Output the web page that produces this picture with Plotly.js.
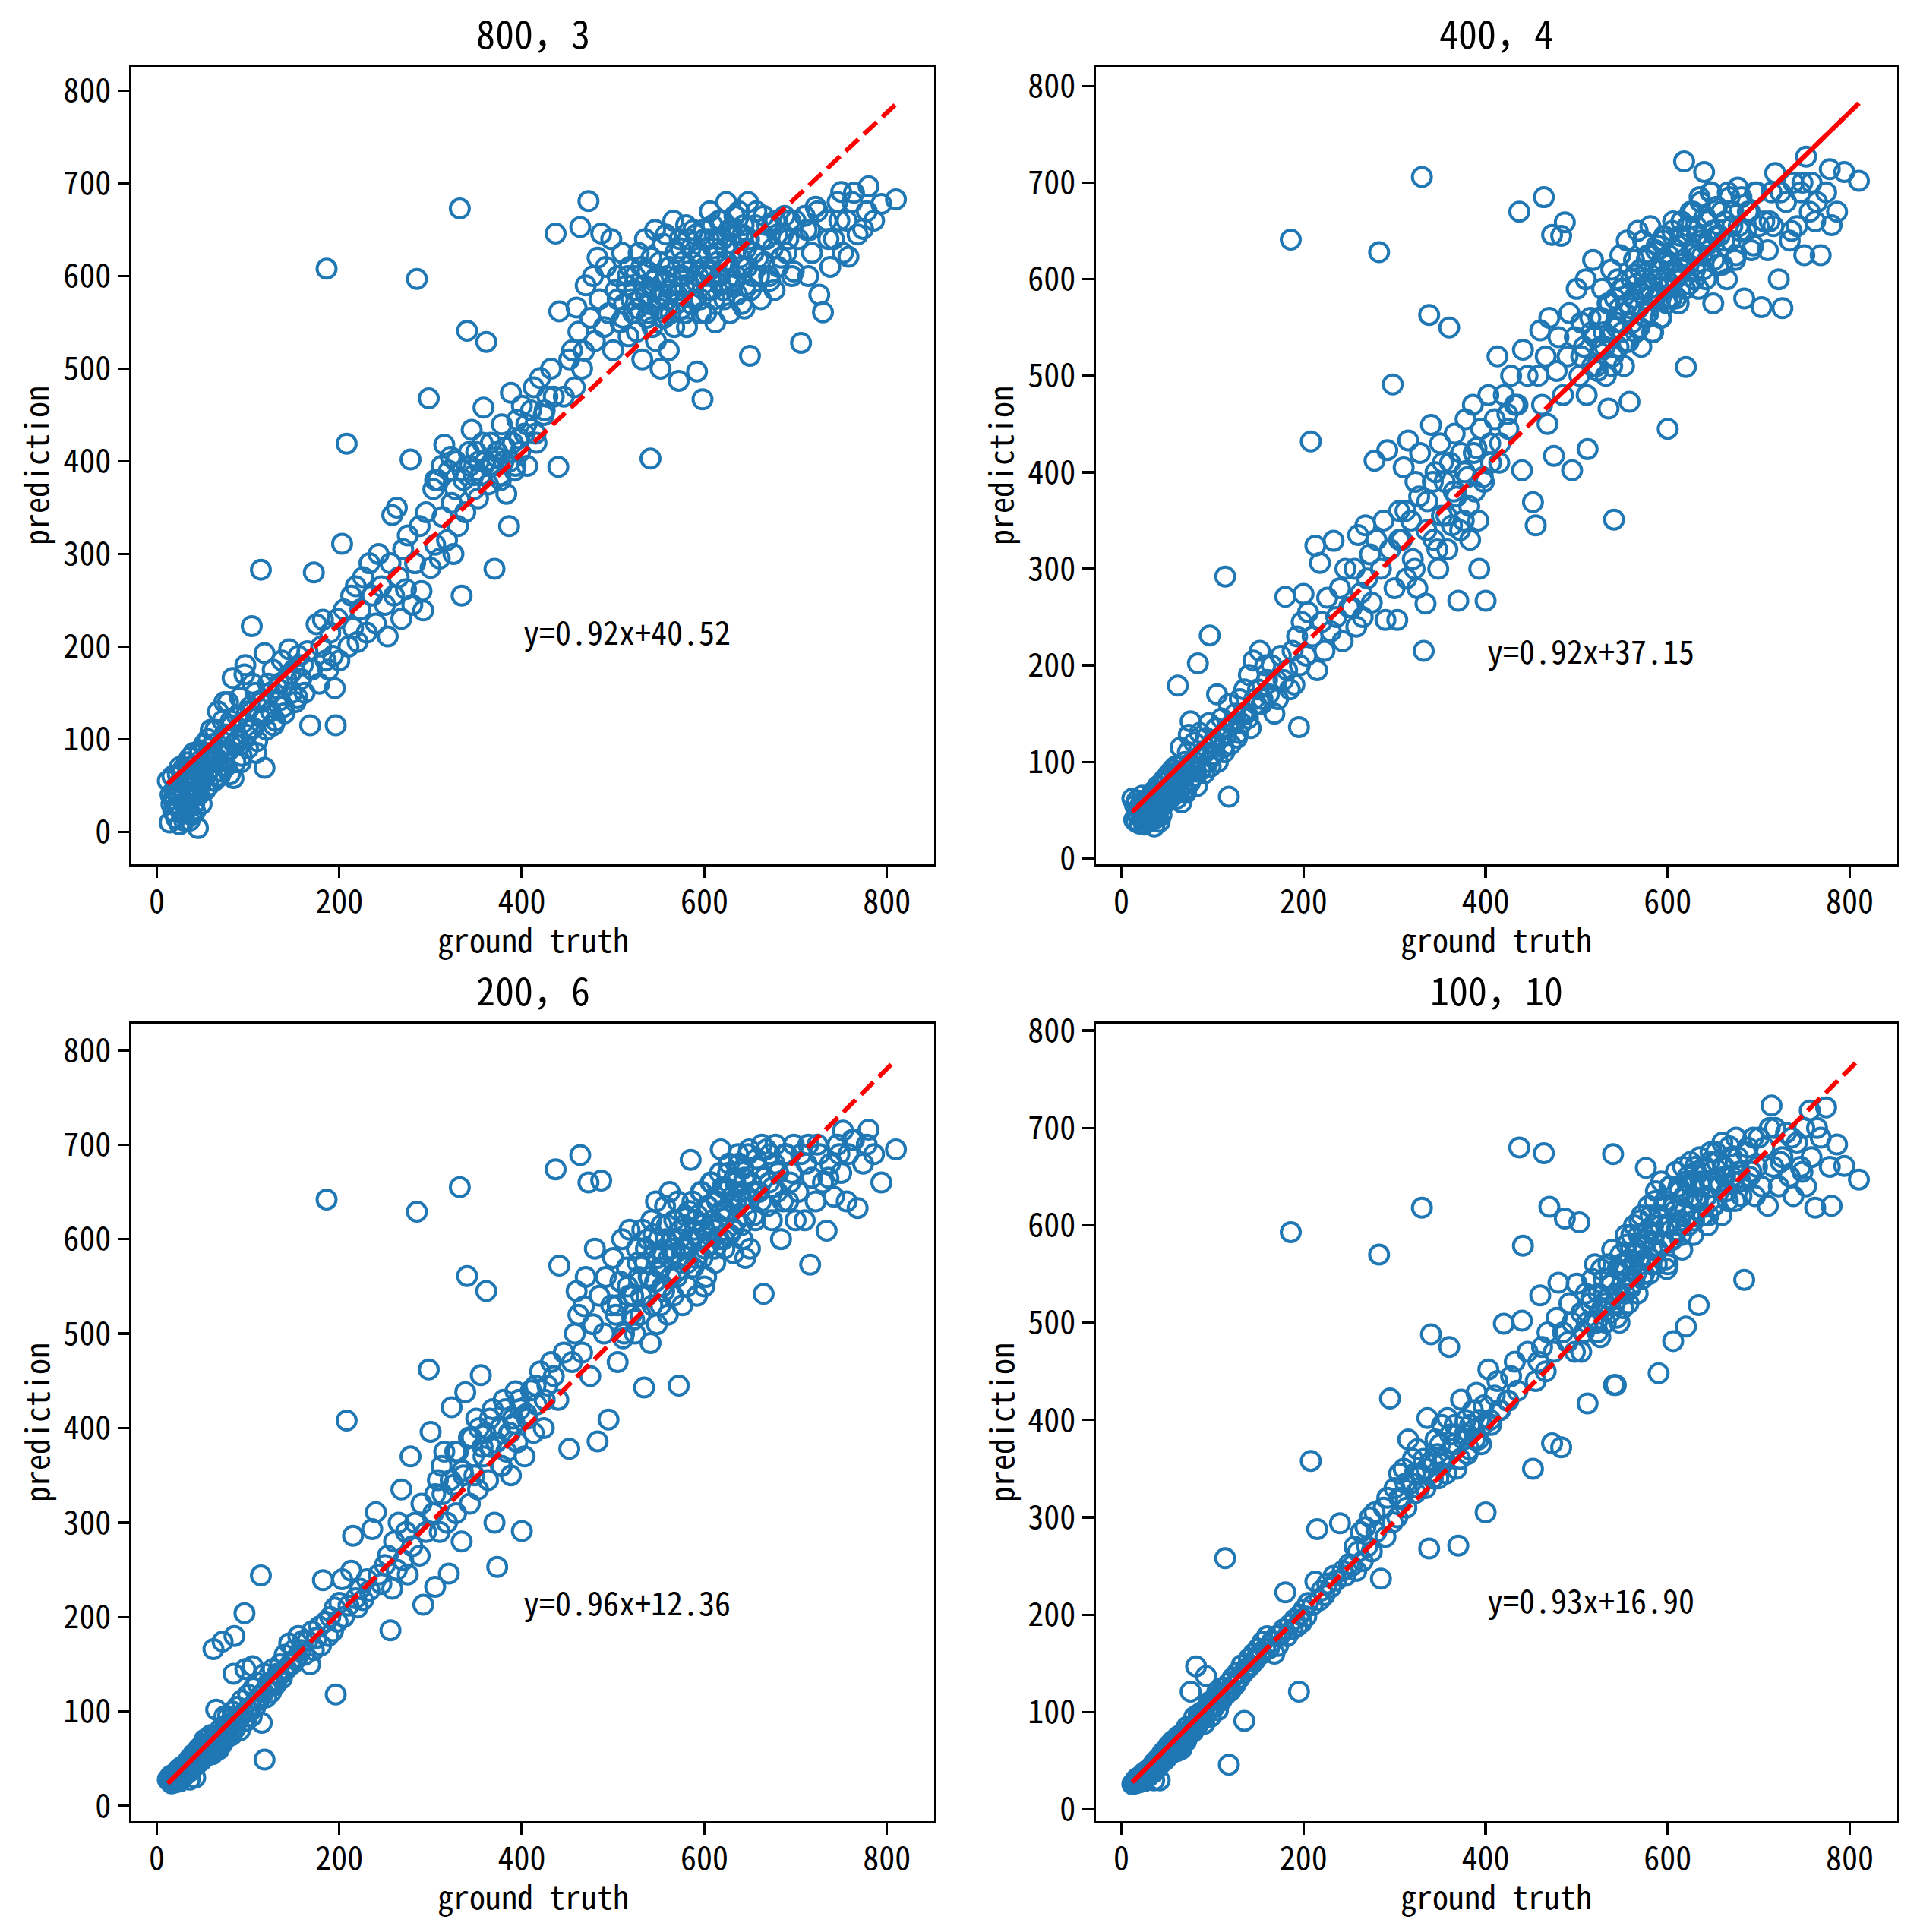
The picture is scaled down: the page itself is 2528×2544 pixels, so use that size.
<!DOCTYPE html>
<html><head><meta charset="utf-8">
<script src="https://cdn.plot.ly/plotly-3.0.1.min.js"></script>
<style>html,body{margin:0;padding:0;background:#fff}</style>
</head><body><div id="chart" style="width:2528px;height:2544px"></div>
<script>
// ---------- DATA ----------
const titles = ['800，3', '400，4', '200，6', '100，10'];
const slopes = [0.92, 0.92, 0.96, 0.93];
const intercepts = [40.52, 37.15, 12.36, 16.90];
const xLabel = 'ground truth';
const yLabel = 'prediction';
const xTicks = [0, 200, 400, 600, 800];
const yTicks = [0, 100, 200, 300, 400, 500, 600, 700, 800];

// ground truth (shared by all four panels)
const groundTruth = [
12,14,15,16,17,18,19,20,21,22, 22,23,24,25,25,26,27,28,28,29, 30,30,31,32,33,33,34,35,35,36, 37,38,38,39,40,40,41,42,43,44, 45,45,46,47,48,49,50,51,52,53, 54,55,56,57,58,58,59,60,42,36,
61,62,63,64,65,66,67,68,70,71, 72,73,75,76,78,79,80,82,83,85, 86,88,90,91,93,95,96,98,100,102, 104,106,108,110,112,114,115,118,120,122, 125,127,130,132,135,137,140,142,145,148, 150,152,155,158,160,97,84,118,74,105,
162,165,168,170,172,175,178,180,182,185, 186,188,190,193,195,196,198,200,203,205, 208,210,213,215,218,220,223,226,230,233, 236,240,243,246,250,
253,256,258,260,263,265,268,270,273,275, 278,280,283,285,288,290,292,295,298,300, 303,305,308,310,313,315,318,320,323,325, 328,330,332,334,336,338,340,343,345,348, 350,352,355,358,360,361,363,366,368,370, 373,376,378,380,383,386,388,390,393,395, 398,400,403,406,410,413,416,420,424,428, 432,437,440,446,452,
455,458,460,462,464,466,468,470,473,475, 478,480,483,485,487,490,492,495,498,500, 503,505,508,510,512,515,517,518,520,441,
522,524,526,528,530,532,534,535,537,538, 540,541,542,543,545,546,547,548,550,551, 552,553,555,556,557,558,560,561,562,563, 565,566,567,568,570,571,572,573,575,576, 578,580,581,583,585,586,588,590,592,594, 596,598,600,602,604,606,608,610,612,614, 616,618,620,622,624,626,628,630,632,634, 636,638,640,642,644,646,648,650,653,656, 659,662,665,668,671,674,677,680,684,688, 692,696,700,645,600,
703,706,710,714,716,718,722,726,730,734, 738,742,746,750,752,756,758,762,768,774, 778,780,786,794,810,
505,511,516,523,527,531,536,539,544,549, 554,559,564,569,574,577,579,582,584,587, 589,591,593,595,597,599,601,603,605,607, 609,611,613,615,617,619,621,623,625,627, 629,631,633,635,637,639,641,643,647,649, 651,654,657,660,663,666,669,672,675,678, 681,686,690,694,698,712,724,736,748,764,
18,24,27,31,34,37,41,44,47,50, 53,57,63,69,74,77,81,87,92,99, 103,109,113,117,124,128,134,139,146,154,
305,312,322,327,335,342,347,353,357,365, 372,377,382,387,392,397,405,415,425,435
];

const pred800_3 = [
55,10,40,30,60,22,45,35,15,50, 28,62,38,8,70,45,20,55,36,68, 42,12,58,30,75,48,25,62,40,80, 35,55,18,70,48,85,30,60,45,75, 4,65,40,88,52,30,72,58,95,45, 78,62,100,50,85,68,110,75,22,12,
70,95,55,110,80,60,130,75,92,65, 120,85,70,105,140,88,62,115,166,95, 75,125,100,145,82,118,170,105,90,135, 222,112,150,98,125,283,140,193,110,160, 130,175,120,155,142,185,128,165,197,150, 175,140,190,165,180,180,58,69,140,160,
150,195,115,175,280,224,160,200,229,185, 608,175,215,190,155,115,230,185,311,240, 419,200,255,220,265,205,240,275,215,290, 255,225,300,265,245,
211,290,342,255,350,275,230,305,262,320, 402,245,290,597,330,260,239,345,468,285, 370,310,380,295,340,418,315,390,355,300, 400,330,673,255,380,345,541,395,434,370, 410,360,385,458,400,529,375,420,395,284, 410,385,440,400,365,330,474,420,395,445, 410,460,430,395,455,480,420,490,450,470, 500,646,394,470,510,
520,480,566,540,653,500,519,590,681,555, 600,530,620,575,646,545,610,560,640,520, 585,600,550,625,570,590,535,610,575,562,
560,600,540,625,575,510,590,640,555,605, 570,403,620,545,585,650,530,600,565,615, 500,580,635,555,595,645,575,520,610,560, 590,660,545,625,580,600,487,640,565,615, 590,655,545,605,630,570,650,595,497,620, 575,467,640,560,605,670,585,630,550,615, 660,590,640,575,680,610,560,650,595,625, 580,670,610,645,565,630,680,514,600,655, 620,575,665,640,600,655,585,645,620,665, 640,600,660,590,600,
640,528,665,600,650,625,675,580,561,660, 610,640,680,691,625,660,621,680,645,651, 670,697,660,678,683,
575,555,600,585,565,610,580,560,595,575, 555,600,585,570,630,600,560,640,590,615, 575,645,600,625,560,650,610,585,640,600, 655,575,625,640,600,660,585,630,615,650, 590,635,665,600,645,620,570,655,610,640, 585,625,670,600,640,615,655,595,630,660, 610,645,625,660,605,650,670,640,660,690,
35,48,65,52,28,70,55,40,85,62, 45,90,78,60,105,88,120,95,75,130, 110,85,140,125,150,115,160,135,170,145,
380,395,405,370,390,410,385,400,420,395, 405,380,415,400,390,425,440,430,455,470
];

const pred400_4 = [
62,40,55,38,60,45,52,36,48,58, 42,65,50,35,60,46,40,56,48,62, 44,38,58,50,66,45,40,60,52,70, 48,62,42,68,55,75,50,65,58,78, 55,70,60,82,65,58,80,68,88,62, 85,72,92,70,88,78,95,82,38,33,
62,179,70,90,115,58,85,75,100,68, 90,110,78,142,95,85,120,90,75,105, 130,92,110,88,125,100,140,95,120,108, 135,100,125,145,115,292,128,160,118,140, 150,125,165,140,175,150,190,135,205,160, 175,215,165,200,185,231,202,64,128,170,
170,200,150,185,165,210,185,271,195,175, 641,215,180,230,136,200,245,274,210,255, 432,230,324,195,306,245,215,270,235,329, 250,280,225,300,260,
260,300,240,335,275,250,345,290,315,265, 412,330,628,300,350,247,423,320,491,280, 247,360,330,405,290,433,350,310,390,280, 420,706,215,264,370,563,449,330,400,300, 430,355,390,320,550,410,345,440,375,267, 420,350,455,395,330,470,380,425,300,445, 390,267,480,410,455,520,430,480,460,500, 470,670,402,500,369,
345,500,547,470,685,520,450,560,646,417, 505,540,645,480,659,520,565,402,540,590, 500,555,530,600,424,560,510,620,540,527,
510,560,530,590,545,500,575,466,540,610, 520,351,580,555,600,530,570,625,545,590, 510,565,640,575,535,473,600,555,580,620, 545,595,650,570,610,530,585,640,600,560, 625,590,655,545,610,580,635,600,560,620, 645,590,445,615,580,660,600,630,575,645, 610,722,509,655,595,630,670,610,645,590, 680,625,711,600,660,630,690,575,645,615, 670,640,600,685,655,620,695,650,580,670, 630,690,655,640,580,
571,660,630,690,655,710,600,570,680,640, 700,655,690,625,727,670,700,660,625,690, 714,656,670,711,702,
520,480,545,505,560,530,575,510,550,590, 535,570,605,550,590,620,565,600,545,630, 585,610,560,640,600,575,625,595,650,610, 580,635,605,660,620,590,645,615,670,630, 600,655,625,685,640,610,665,635,690,650, 620,675,645,615,660,690,640,670,625,655, 685,650,670,635,690,660,690,650,700,680,
45,52,40,58,48,62,55,45,68,60, 72,65,80,70,95,82,100,92,110,105, 118,125,110,135,140,130,150,145,165,160,
330,360,300,375,340,390,320,410,355,380, 340,400,365,420,350,395,430,410,445,470
];

const pred200_6 = [
28,26,32,24,30,28,34,25,30,36, 28,38,30,26,40,32,30,42,34,38, 36,32,44,38,46,35,40,48,36,50, 42,48,38,52,45,55,42,50,48,58, 46,60,50,62,55,48,64,58,70,52, 66,60,72,58,68,62,75,65,30,28,
55,166,70,58,102,62,75,60,82,65, 174,68,85,72,95,78,88,75,100,180, 82,105,92,80,112,98,204,90,118,100, 95,125,105,130,112,244,88,140,115,130, 120,145,128,140,150,135,160,145,172,150, 165,155,180,165,175,145,140,49,95,148,
160,175,150,185,165,178,190,170,239,195, 642,180,200,185,210,118,195,215,240,200, 408,212,249,286,220,210,230,218,240,228, 293,311,245,235,255,
265,186,230,280,250,300,335,260,290,245, 370,275,300,629,265,320,213,290,462,396, 310,232,345,290,330,375,300,246,422,340, 310,375,655,280,350,438,561,320,390,350, 410,335,456,370,395,545,345,380,420,300, 253,400,360,430,375,395,350,410,439,385, 420,291,370,410,440,395,425,460,400,445, 470,674,430,480,378,
470,500,545,520,689,480,529,560,660,455, 510,590,386,540,662,500,560,409,530,580, 520,470,555,600,500,570,540,610,520,572,
540,500,590,560,520,610,443,575,540,600, 560,490,620,530,585,555,640,510,600,570, 530,615,585,545,635,600,520,580,650,560, 600,540,620,585,560,640,445,600,575,530, 615,590,550,630,684,600,570,620,540,600, 650,580,610,560,635,595,660,610,575,640, 600,695,655,590,630,670,605,645,585,660, 620,680,640,600,665,625,690,590,650,620, 675,640,542,695,660,620,680,650,600,690, 640,670,620,580,550,
650,690,620,700,573,665,640,690,660,609, 680,645,700,670,715,640,690,705,633,680, 700,716,690,660,695,
530,495,550,515,575,540,590,560,605,580, 550,615,590,565,610,590,625,575,600,640, 610,580,625,600,650,615,590,635,605,660, 620,590,645,615,670,630,600,655,625,680, 640,610,665,635,690,650,615,675,645,695, 660,625,685,650,700,665,635,690,655,700, 670,640,690,660,700,680,700,665,690,705,
26,30,34,33,38,40,45,44,50,52, 56,58,66,70,78,80,85,90,96,102, 105,112,116,120,128,130,138,142,150,158,
330,360,345,375,355,390,370,400,380,410, 385,360,420,395,405,430,415,445,430,455
];

const pred100_10 = [
26,28,30,27,32,29,31,28,33,35, 30,36,32,29,38,34,33,40,35,38, 37,34,42,38,44,39,40,46,38,48, 43,47,41,50,46,52,45,50,49,56, 50,58,52,60,55,52,62,58,66,56, 64,62,70,60,68,64,72,66,30,30,
60,75,64,70,72,62,78,68,80,70, 85,75,82,121,86,80,95,147,85,98, 90,100,95,88,137,100,110,95,112,105, 115,102,118,112,125,258,118,130,122,135, 128,140,135,148,91,145,155,148,160,155, 165,160,172,165,178,105,92,46,78,120,
165,172,160,178,168,180,185,223,178,190, 593,185,195,188,121,200,192,205,198,212, 358,210,234,288,215,225,220,232,228,240, 235,294,245,240,252,
250,270,245,265,285,255,290,270,300,265, 305,285,570,237,310,280,320,422,295,330, 300,345,320,350,310,380,335,360,325,370, 345,618,360,330,402,268,488,355,380,340, 375,395,360,402,475,385,370,395,350,271, 421,380,400,365,395,410,380,428,400,375, 415,305,452,395,425,440,410,499,420,445, 460,680,502,470,350,
440,460,528,475,674,450,490,619,376,470, 505,541,372,490,607,480,520,500,470,540, 603,510,490,530,417,520,545,500,560,579,
500,530,485,515,545,500,525,560,510,540, 673,436,520,436,555,530,500,570,540,515, 560,530,580,545,520,565,590,540,560,600, 550,575,530,590,560,610,545,580,565,659, 595,550,610,575,590,625,560,448,600,580, 620,565,600,640,585,481,615,595,640,605, 575,630,496,650,610,640,590,660,625,518, 645,610,660,630,600,665,640,620,675,645, 610,660,635,681,650,625,670,645,544,680, 655,630,690,610,560,
640,680,620,723,660,700,640,670,695,650, 630,685,660,700,640,718,670,618,690,721, 660,620,683,661,647,
470,500,525,490,555,520,545,575,505,560, 590,535,570,605,550,585,620,560,600,635, 575,610,645,580,625,555,600,640,585,620, 655,600,635,590,660,615,645,600,665,630, 605,655,625,670,640,610,660,630,675,645, 620,665,640,685,650,625,670,645,690,655, 630,675,650,690,660,700,665,690,655,700,
28,32,34,36,38,42,45,48,50,54, 56,60,68,72,78,82,86,92,96,104, 108,114,118,122,128,134,140,145,152,160,
320,335,345,330,350,340,365,355,345,375, 360,385,370,390,380,395,400,410,420,430
];

const predictions = [pred800_3, pred400_4, pred200_6, pred100_10];

// ---------- STYLE ----------
const FONT = "'Noto Sans Mono CJK SC', 'Liberation Mono', 'DejaVu Sans Mono', monospace";
const BLUE = '#1f77b4';
const RED = '#ff0000';
const xRange = [-28, 852];
const yRanges = [[-35, 826], [-6, 820], [-16, 828], [-12, 807]];
const xDomains = [[0.0684, 0.4866], [0.5708, 0.9881], [0.0684, 0.4866], [0.5708, 0.9881]];
const yDomains = [[0.5527, 0.9654], [0.5527, 0.9654], [0.0574, 0.4701], [0.0574, 0.4701]];
// portions of the fitted line that appear solid (x ranges)
const solidParts = [[[null, 171]], [[null, 174], [474, null]], [[null, 157]], [[null, 163]]];

const traces = [];
const annotations = [];
const layout = {
  width: 2528, height: 2544,
  margin: {l: 0, r: 0, t: 0, b: 0},
  paper_bgcolor: '#fff', plot_bgcolor: '#fff',
  showlegend: false,
  font: {family: FONT, size: 42, color: '#000'},
  annotations: annotations
};

const xmin = Math.min(...groundTruth), xmax = Math.max(...groundTruth);

for (let i = 0; i < 4; i++) {
  const s = i === 0 ? '' : String(i + 1);
  const xa = 'x' + s, ya = 'y' + s;
  traces.push({
    type: 'scatter', mode: 'markers', xaxis: xa, yaxis: ya,
    x: groundTruth, y: predictions[i],
    marker: {symbol: 'circle-open', size: 25, color: BLUE, line: {width: 4, color: BLUE}},
    hoverinfo: 'skip'
  });
  const f = x => slopes[i] * x + intercepts[i];
  traces.push({
    type: 'scatter', mode: 'lines', xaxis: xa, yaxis: ya,
    x: [xmin, xmax], y: [f(xmin), f(xmax)],
    line: {color: RED, width: 6, dash: '23px,10px'}, hoverinfo: 'skip'
  });
  solidParts[i].forEach(p => {
    const a = p[0] === null ? xmin : p[0];
    const b = p[1] === null ? xmax : p[1];
    traces.push({
      type: 'scatter', mode: 'lines', xaxis: xa, yaxis: ya,
      x: [a, b], y: [f(a), f(b)],
      line: {color: RED, width: 6}, hoverinfo: 'skip'
    });
  });
  const axCommon = {
    showline: true, mirror: true, linecolor: '#000', linewidth: 3.3,
    ticks: 'outside', ticklen: 15, tickwidth: 3.3, tickcolor: '#000',
    showgrid: false, zeroline: false, automargin: false,
    tickfont: {family: FONT, size: 42, color: '#000'}
  };
  layout['xaxis' + s] = Object.assign({}, axCommon, {
    domain: xDomains[i], range: xRange, anchor: ya, ticklabelstandoff: -5,
    tickmode: 'array', tickvals: xTicks, ticktext: xTicks.map(String)
  });
  layout['yaxis' + s] = Object.assign({}, axCommon, {
    domain: yDomains[i], range: yRanges[i], anchor: xa,
    tickmode: 'array', tickvals: yTicks, ticktext: yTicks.map(String)
  });
  // axis labels
  annotations.push({
    xref: 'paper', yref: 'paper',
    x: (xDomains[i][0] + xDomains[i][1]) / 2, y: yDomains[i][0],
    xanchor: 'center', yanchor: 'middle', yshift: -98, showarrow: false,
    text: xLabel, font: {family: FONT, size: 42, color: '#000'}
  });
  annotations.push({
    xref: 'paper', yref: 'paper',
    x: xDomains[i][0], y: (yDomains[i][0] + yDomains[i][1]) / 2,
    xanchor: 'center', yanchor: 'middle', xshift: -127, textangle: -90, showarrow: false,
    text: yLabel, font: {family: FONT, size: 42, color: '#000'}
  });
  // subplot title
  annotations.push({
    xref: 'paper', yref: 'paper',
    x: (xDomains[i][0] + xDomains[i][1]) / 2, y: yDomains[i][1],
    xanchor: 'center', yanchor: 'bottom', yshift: 8, showarrow: false,
    text: titles[i], font: {family: FONT, size: 50, color: '#000'}
  });
  // fitted equation
  annotations.push({
    xref: xa, yref: ya, x: 400, y: 200, xanchor: 'left', yanchor: 'bottom',
    yshift: -12, showarrow: false,
    text: 'y=' + slopes[i].toFixed(2) + 'x+' + intercepts[i].toFixed(2),
    font: {family: FONT, size: 42, color: '#000'}
  });
}

Plotly.newPlot('chart', traces, layout, {staticPlot: true});
</script></body></html>
